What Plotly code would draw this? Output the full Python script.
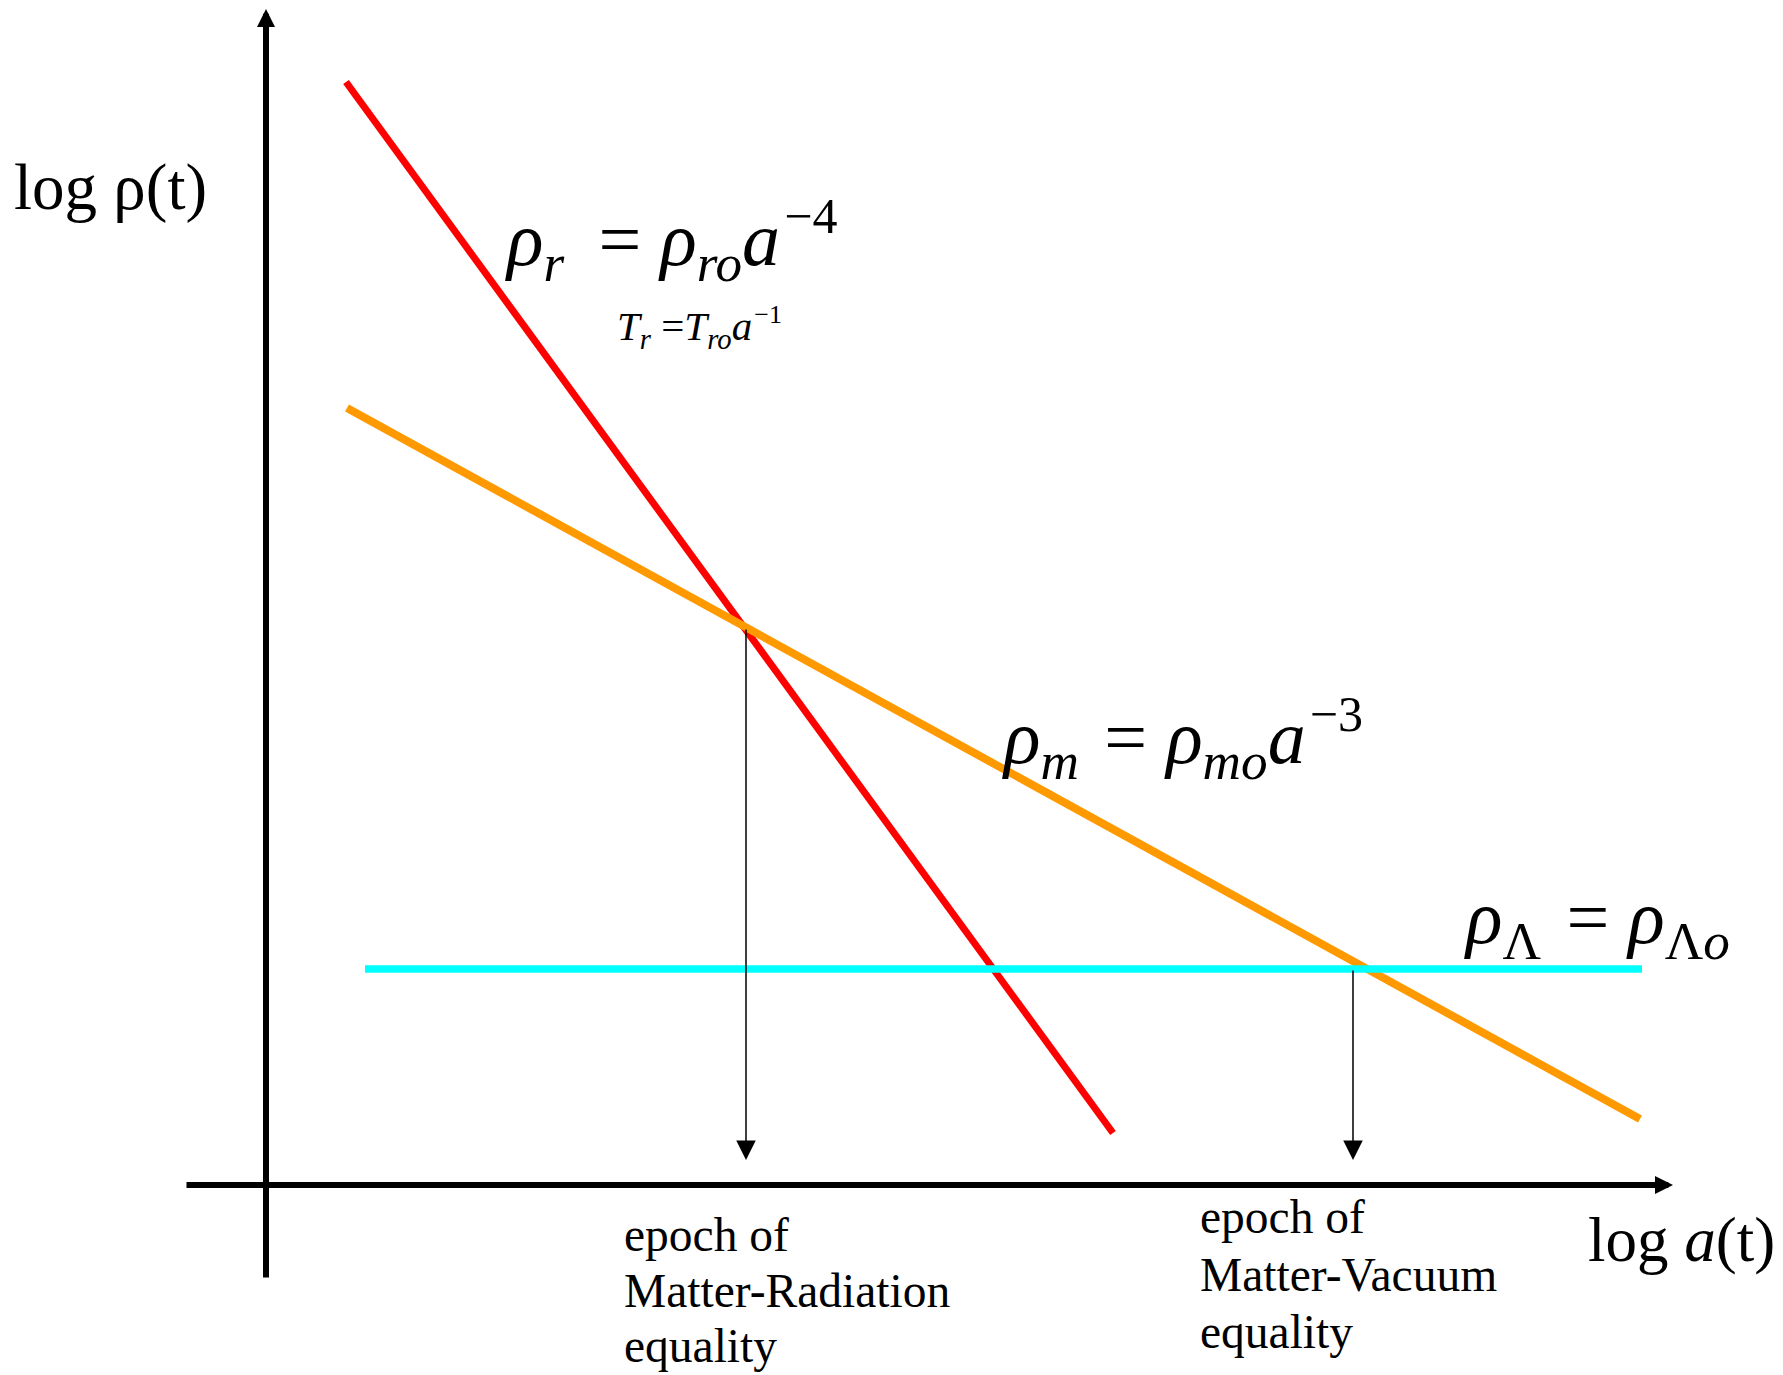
import plotly.graph_objects as go

# Schematic log-log densities (x = log a, y = log rho, arbitrary units)
log_a_rad = [0.80, 8.47]
log_rho_rad = [11.03, 0.52]

log_a_mat = [0.81, 13.74]
log_rho_mat = [7.77, 0.66]

log_a_vac = [0.99, 13.76]
log_rho_vac = [2.16, 2.16]

# Epochs of equality: where the arrows drop to the log a axis
epoch_log_a = [4.80, 10.87]
epoch_log_rho = [5.57, 2.16]
epoch_arrow_end = 0.25

# Extent of the two coordinate axes
x_axis_span = [-0.81, 14.07]
y_axis_span = [-0.94, 11.76]

FONT = "Liberation Serif"

fig = go.Figure()

fig.add_trace(go.Scatter(x=log_a_rad, y=log_rho_rad, mode="lines",
                         line=dict(color="#ff0000", width=7), hoverinfo="skip"))
fig.add_trace(go.Scatter(x=log_a_mat, y=log_rho_mat, mode="lines",
                         line=dict(color="#ff9900", width=8), hoverinfo="skip"))
fig.add_trace(go.Scatter(x=log_a_vac, y=log_rho_vac, mode="lines",
                         line=dict(color="#00ffff", width=7.5), hoverinfo="skip"))

annotations = []

# Axes drawn as thick arrows
annotations.append(dict(x=0, y=y_axis_span[1], ax=0, ay=y_axis_span[0],
                        xref="x", yref="y", axref="x", ayref="y", text="",
                        showarrow=True, arrowhead=2, arrowwidth=6, arrowsize=0.6,
                        arrowcolor="black", standoff=0, startstandoff=0))
annotations.append(dict(x=x_axis_span[1], y=0, ax=x_axis_span[0], ay=0,
                        xref="x", yref="y", axref="x", ayref="y", text="",
                        showarrow=True, arrowhead=2, arrowwidth=6, arrowsize=0.6,
                        arrowcolor="black", standoff=0, startstandoff=0))

# Thin arrows marking the epochs
for xa, ya in zip(epoch_log_a, epoch_log_rho):
    annotations.append(dict(x=xa, y=epoch_arrow_end, ax=xa, ay=ya,
                            xref="x", yref="y", axref="x", ayref="y", text="",
                            showarrow=True, arrowhead=2, arrowwidth=1.5, arrowsize=2.6,
                            arrowcolor="black", standoff=0, startstandoff=0))


def label(text, x, y, size, anchor="left"):
    annotations.append(dict(x=x, y=y, xref="x", yref="y", text=text, showarrow=False,
                            xanchor=anchor, yanchor="middle",
                            font=dict(family=FONT, size=size, color="black")))


NB = "\u00a0"
THIN = "\u2009"
HAIR = "\u200a"


def sup(s, px, gap=NB + THIN):
    return "<sup><span style='font-size:%dpx'>%s%s</span></sup>" % (px, gap, s)


label("log ρ(t)", -2.54, 9.98, 65)
label("log <i>a</i>(t)", 13.20, -0.55, 63)

label("<i>ρ</i><sub><i>r</i></sub>" + NB + THIN + "=" + NB +
      "<i>ρ</i><sub><i>ro</i></sub><i>a</i>" + sup("−4", 50, HAIR), 2.37, 9.45, 76)
label("<i>T</i><sub><i>r</i></sub>" + NB + "=" +
      "<i>T</i><sub><i>ro</i></sub><i>a</i>" + sup("−1", 26, HAIR), 3.49, 8.58, 41)
label("<i>ρ</i><sub><i>m</i></sub>" + NB + HAIR + "=" + NB +
      "<i>ρ</i><sub><i>mo</i></sub><i>a</i>" + sup("−3", 50, HAIR), 7.34, 4.47, 76)
label("<i>ρ</i><sub>Λ</sub>" + NB + HAIR + "=" + NB +
      "<i>ρ</i><sub>Λ<i>o</i></sub>", 11.96, 2.62, 76)

for txt, yy in zip(["epoch of", "Matter-Radiation", "equality"], [-0.50, -1.06, -1.61]):
    label(txt, 3.56, yy, 47.5)
for txt, yy in zip(["epoch of", "Matter-Vacuum", "equality"], [-0.32, -0.90, -1.47]):
    label(txt, 9.32, yy, 47.5)

fig.update_layout(
    width=1783, height=1375,
    margin=dict(l=0, r=0, t=0, b=0),
    paper_bgcolor="white", plot_bgcolor="white",
    showlegend=False,
    xaxis=dict(range=[-2.66, 15.17], visible=False, fixedrange=True),
    yaxis=dict(range=[-1.90, 11.85], visible=False, fixedrange=True),
    annotations=annotations,
)

fig.write_html("out.html", config={"displayModeBar": False})
